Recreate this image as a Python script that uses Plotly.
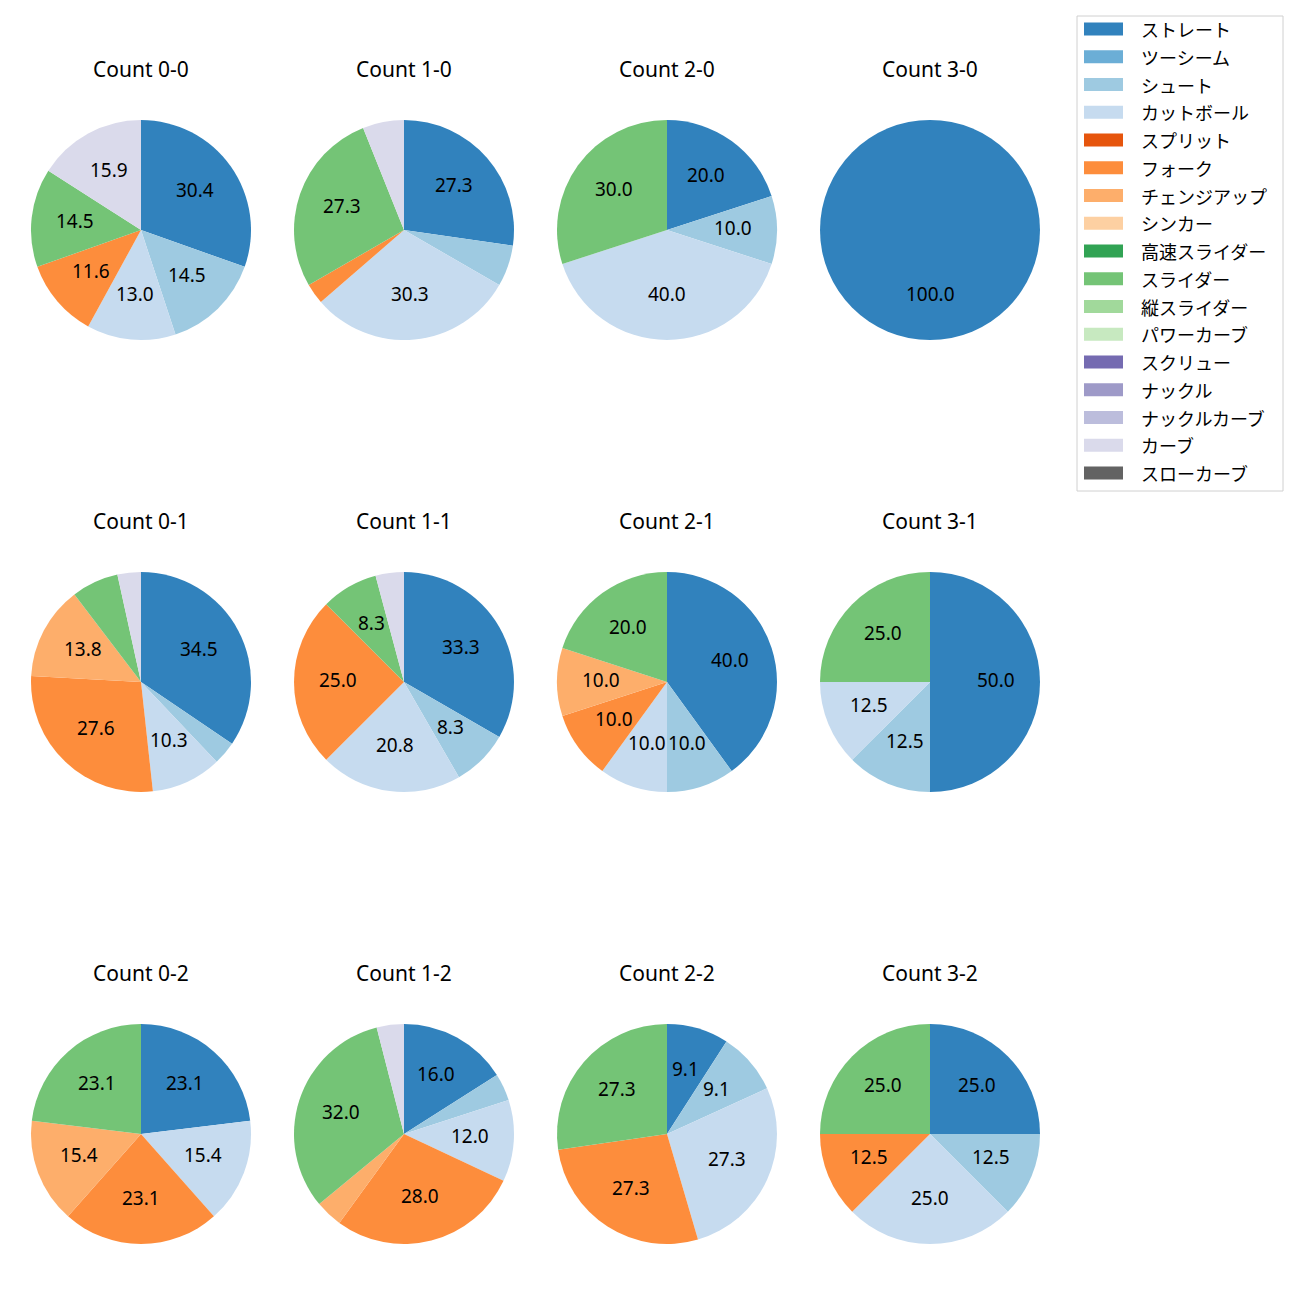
import math
import plotly.graph_objects as go

OFF = 8              # default page margin of the html body
W = H = 1300 - OFF   # figure size so it exactly fills the window

pitch_types = ["ストレート", "ツーシーム", "シュート", "カットボール", "スプリット", "フォーク",
               "チェンジアップ", "シンカー", "高速スライダー", "スライダー", "縦スライダー",
               "パワーカーブ", "スクリュー", "ナックル", "ナックルカーブ", "カーブ", "スローカーブ"]
colors = ["#3182bd", "#6baed6", "#9ecae1", "#c6dbef", "#e6550d", "#fd8d3c", "#fdae6b", "#fdd0a2",
          "#31a354", "#74c476", "#a1d99b", "#c7e9c0", "#756bb1", "#9e9ac8", "#bcbddc", "#dadaeb",
          "#636363"]
color_map = dict(zip(pitch_types, colors))

titles = ["Count 0-0", "Count 1-0", "Count 2-0", "Count 3-0",
          "Count 0-1", "Count 1-1", "Count 2-1", "Count 3-1",
          "Count 0-2", "Count 1-2", "Count 2-2", "Count 3-2"]

# pitch counts per count situation
c00_labels = ["ストレート", "シュート", "カットボール", "フォーク", "スライダー", "カーブ"]
c00_values = [21, 10, 9, 8, 10, 11]
c10_labels = ["ストレート", "シュート", "カットボール", "フォーク", "スライダー", "カーブ"]
c10_values = [9, 2, 10, 1, 9, 2]
c20_labels = ["ストレート", "シュート", "カットボール", "スライダー"]
c20_values = [2, 1, 4, 3]
c30_labels = ["ストレート"]
c30_values = [1]
c01_labels = ["ストレート", "シュート", "カットボール", "フォーク", "チェンジアップ", "スライダー", "カーブ"]
c01_values = [10, 1, 3, 8, 4, 2, 1]
c11_labels = ["ストレート", "シュート", "カットボール", "フォーク", "スライダー", "カーブ"]
c11_values = [8, 2, 5, 6, 2, 1]
c21_labels = ["ストレート", "シュート", "カットボール", "フォーク", "チェンジアップ", "スライダー"]
c21_values = [4, 1, 1, 1, 1, 2]
c31_labels = ["ストレート", "シュート", "カットボール", "スライダー"]
c31_values = [4, 1, 1, 2]
c02_labels = ["ストレート", "カットボール", "フォーク", "チェンジアップ", "スライダー"]
c02_values = [3, 2, 3, 2, 3]
c12_labels = ["ストレート", "シュート", "カットボール", "フォーク", "チェンジアップ", "スライダー", "カーブ"]
c12_values = [4, 1, 3, 7, 1, 8, 1]
c22_labels = ["ストレート", "シュート", "カットボール", "フォーク", "スライダー"]
c22_values = [1, 1, 3, 3, 3]
c32_labels = ["ストレート", "シュート", "カットボール", "フォーク", "スライダー"]
c32_values = [2, 1, 2, 1, 2]

datasets = [(c00_labels, c00_values), (c10_labels, c10_values), (c20_labels, c20_values), (c30_labels, c30_values),
            (c01_labels, c01_values), (c11_labels, c11_values), (c21_labels, c21_values), (c31_labels, c31_values),
            (c02_labels, c02_values), (c12_labels, c12_values), (c22_labels, c22_values), (c32_labels, c32_values)]

LATIN = "Noto Sans, Noto Sans CJK JP, sans-serif"
CJK = "Noto Sans CJK JP, sans-serif"
col_cx = [141, 404, 667, 930]
row_cy = [230, 682, 1134]
R = 110
title_dy = 161
pct_dist = 0.6
pct_shift = 2
min_pct = 7.5


def fx(px):
    return (px - OFF) / W


def fy(py):
    return 1 - (py - OFF) / H


fig = go.Figure()
annotations = []
shapes = []

for i, ((labels, values), title) in enumerate(zip(datasets, titles)):
    r, c = divmod(i, 4)
    cx, cy = col_cx[c], row_cy[r]
    fig.add_trace(go.Pie(
        labels=labels, values=values, sort=False, direction="clockwise", rotation=0,
        marker=dict(colors=[color_map[l] for l in labels], line=dict(width=0)),
        textinfo="none", hoverinfo="label+percent", showlegend=False,
        domain=dict(x=[fx(cx - R), fx(cx + R)], y=[fy(cy + R), fy(cy - R)]),
    ))
    annotations.append(dict(text=title, x=fx(cx), y=fy(cy - title_dy), xref="paper", yref="paper",
                            xanchor="center", yanchor="middle", showarrow=False,
                            font=dict(family=LATIN, size=21, color="#000")))
    total = sum(values)
    cum = 0
    for v in values:
        pct = 100 * v / total
        mid = (cum + v / 2) / total
        cum += v
        if pct < min_pct:
            continue
        th = math.radians(90 - 360 * mid)
        px = cx + pct_dist * R * math.cos(th)
        py = cy - pct_dist * R * math.sin(th) - pct_shift
        annotations.append(dict(text=f"{pct:.1f}", x=fx(px), y=fy(py), xref="paper", yref="paper",
                                xanchor="center", yanchor="middle", showarrow=False,
                                font=dict(family=LATIN, size=19, color="#000")))

# legend drawn manually
lx0, ly0, lx1, ly1 = 1077, 16, 1283, 491
shapes.append(dict(type="rect", xref="paper", yref="paper", x0=fx(lx0), x1=fx(lx1),
                   y0=fy(ly1), y1=fy(ly0), line=dict(color="#d0d0d0", width=1),
                   fillcolor="rgba(255,255,255,0.8)"))
step = 27.75
for k, name in enumerate(pitch_types):
    yc = 29 + k * step
    shapes.append(dict(type="rect", xref="paper", yref="paper", x0=fx(1084), x1=fx(1123),
                       y0=fy(yc + 6.5), y1=fy(yc - 6.5), line=dict(width=0),
                       fillcolor=color_map[name]))
    annotations.append(dict(text=name, x=fx(1139), y=fy(yc), xref="paper", yref="paper",
                            xanchor="left", yanchor="middle", showarrow=False,
                            font=dict(family=CJK, size=18, color="#000")))

fig.update_layout(width=W, height=H, margin=dict(l=0, r=0, t=0, b=0),
                  paper_bgcolor="white", plot_bgcolor="white",
                  annotations=annotations, shapes=shapes, showlegend=False)
fig.write_html("out.html")
